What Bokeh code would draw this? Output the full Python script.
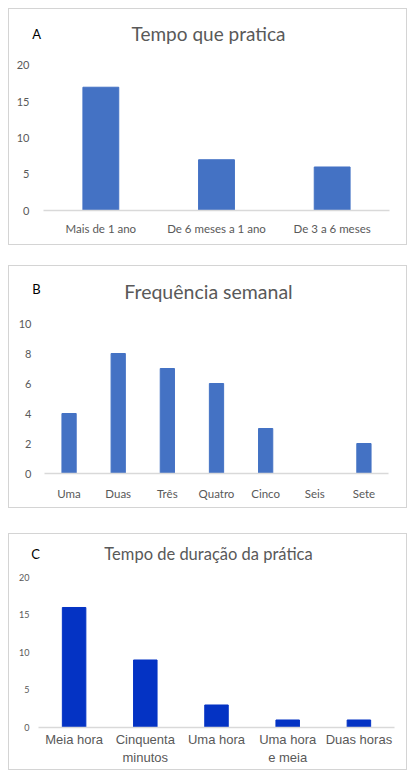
from bokeh.plotting import figure
from bokeh.layouts import column
from bokeh.models import Label, Spacer, FactorRange
from bokeh.embed import file_html
from bokeh.resources import INLINE

# panel A
tempo_cats = ['Mais de 1 ano', 'De 6 meses a 1 ano', 'De 3 a 6 meses']
tempo_vals = [17, 7, 6]
tempo_ticks = [0, 5, 10, 15, 20]

# panel B
freq_cats = ['Uma', 'Duas', 'Três', 'Quatro', 'Cinco', 'Seis', 'Sete']
freq_vals = [4, 8, 7, 6, 3, 0, 2]
freq_ticks = [0, 2, 4, 6, 8, 10]

# panel C
dur_cats = ['Meia hora', 'Cinquenta\nminutos', 'Uma hora', 'Uma hora\ne meia', 'Duas horas']
dur_vals = [16, 9, 3, 1, 1]
dur_ticks = [0, 5, 10, 15, 20]

GREY = '#595959'
AXIS = '#d9d9d9'
FONT = 'Lato'


# the frame runs up to the top of each box so the title and the letter are not clipped;
# the y range is stretched above the last tick to make room for them.
# all three share the same left/right borders (the column lines the frames up anyway)
def panel(cats, vals, ticks, ytop, color, bar_w, h, pad, bottom, title, letter,
          title_pos, letter_pos, title_size, tick_size, y_standoff, xl_font, xl_size, x_standoff):
	xr = FactorRange(factors=cats, range_padding=pad, range_padding_units='absolute')
	p = figure(x_range=xr, y_range=(0, ytop), width=399, height=h,
		output_backend='svg', toolbar_location=None,
		min_border_left=19, min_border_right=4,
		min_border_top=0, min_border_bottom=bottom)
	p.styles = {'border': '1px solid #d4d4d4'}
	p.vbar(x=cats, top=vals, width=bar_w, color=color)
	p.outline_line_color = None
	p.xgrid.grid_line_color = None
	p.ygrid.grid_line_color = None
	p.yaxis.ticker = ticks
	p.yaxis.axis_line_color = None
	p.yaxis.major_tick_line_color = None
	p.yaxis.minor_tick_line_color = None
	p.yaxis.major_label_text_color = GREY
	p.yaxis.major_label_text_font = FONT
	p.yaxis.major_label_text_font_size = tick_size
	p.yaxis.major_label_standoff = y_standoff
	p.xaxis.bounds = (0, len(cats))
	p.xaxis.axis_line_color = AXIS
	p.xaxis.axis_line_width = 1.5
	p.xaxis.major_tick_line_color = None
	p.xaxis.minor_tick_line_color = None
	p.xaxis.major_label_text_color = GREY
	p.xaxis.major_label_text_font = xl_font
	p.xaxis.major_label_text_font_size = xl_size
	p.xaxis.major_label_standoff = x_standoff
	p.add_layout(Label(x=title_pos[0], y=title_pos[1], text=title,
		text_font=FONT, text_font_size=title_size, text_color=GREY,
		text_align='center', text_baseline='middle'))
	p.add_layout(Label(x=letter_pos[0], y=letter_pos[1], text=letter,
		text_font=FONT, text_font_size='13px', text_color='black',
		text_align='center', text_baseline='middle'))
	return p


pa = panel(tempo_cats, tempo_vals, tempo_ticks, 27.72, '#4472c4', 0.31, 237, 0.1254, 36,
	'Tempo que pratica', 'A', (1.431, 24.41), (-0.056, 24.28), '19px', '11px', -7,
	FONT, '11.5px', 5)
pb = panel(freq_cats, freq_vals, freq_ticks, 13.8, '#4472c4', 0.29, 243, 0.3256, 36,
	'Frequência semanal', 'B', (3.337, 12.13), (-0.163, 12.33), '19.5px', '11px', -9,
	FONT, '11.5px', 7)
pc = panel(dur_cats, dur_vals, dur_ticks, 25.73, '#0433c4', 0.33, 237, 0.1404, 44,
	'Tempo de duração da prática', 'C', (2.388, 23.07), (-0.042, 23.07), '16.5px', '9px', -7,
	'Liberation Sans', '13px', -2)

layout = column(pa, Spacer(height=20), pb, Spacer(height=25), pc, spacing=0)
layout.margin = (8, 0, 0, 8)

open("out.html", "w").write(file_html(layout, INLINE))
